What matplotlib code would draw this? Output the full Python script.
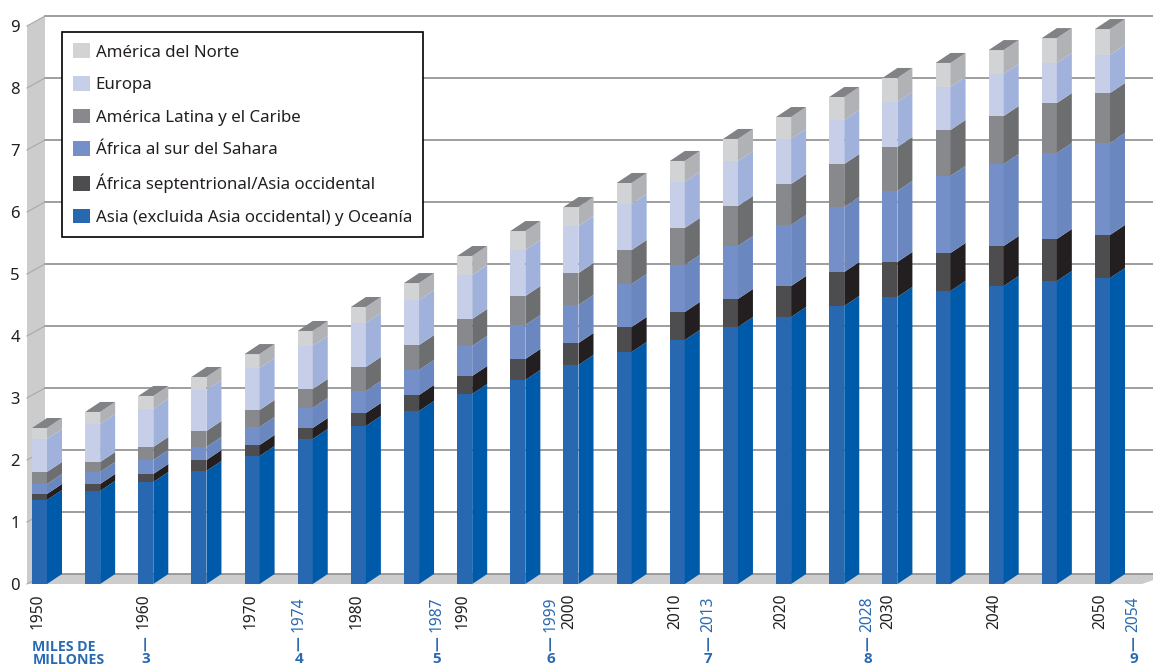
import matplotlib
matplotlib.use("Agg")
import matplotlib.pyplot as plt
from matplotlib.patches import Patch, Polygon
from matplotlib.transforms import ScaledTranslation

plt.rcParams['font.family'] = ['Noto Sans', 'DejaVu Sans']

# population by region, thousands of millions
years = [1950, 1955, 1960, 1965, 1970, 1975, 1980, 1985, 1990, 1995, 2000,
         2005, 2010, 2015, 2020, 2025, 2030, 2035, 2040, 2045, 2050]
asia = [1.355, 1.50, 1.645, 1.823, 2.065, 2.339, 2.548, 2.79, 3.065, 3.29, 3.532,
        3.742, 3.935, 4.145, 4.306, 4.484, 4.629, 4.726, 4.806, 4.887, 4.935]
north_africa = [.097, .113, .129, .177, .177, .177, .21, .258, .29, .339, .355,
                .403, .452, .452, .5, .548, .565, .613, .645, .677, .694]
subsaharan = [.161, .194, .226, .21, .29, .323, .355, .403, .484, .548, .613,
              .694, .758, .855, .984, 1.048, 1.145, 1.242, 1.323, 1.387, 1.484]
latin_america = [.194, .161, .21, .258, .274, .306, .387, .403, .435, .468, .516,
                 .548, .597, .645, .661, .694, .71, .742, .774, .806, .806]
europe = [.532, .613, .613, .661, .677, .694, .71, .726, .71, .742, .758,
          .742, .742, .726, .726, .71, .726, .694, .677, .645, .613]
north_america = [.177, .194, .21, .21, .226, .242, .258, .274, .306, .306, .306,
                 .339, .339, .355, .355, .371, .387, .387, .387, .403, .419]

series = [asia, north_africa, subsaharan, latin_america, europe, north_america]
names = ['Asia (excluida Asia occidental) y Oceanía',
         'África septentrional/Asia occidental',
         'África al sur del Sahara',
         'América Latina y el Caribe',
         'Europa',
         'América del Norte']
front_colors = ['#2868b0', '#4d4d4f', '#7590c8', '#88898c', '#c7cfe8', '#d1d3d4']
side_colors = ['#005aaa', '#231f20', '#6a87c0', '#6d6e70', '#a0b2dc', '#b0b2b5']

y_ticks = list(range(10))
decade_labels = [1950, 1960, 1970, 1980, 1990, 2000, 2010, 2020, 2030, 2040, 2050]
milestone_years = [1960, 1974, 1987, 1999, 2013, 2028, 2054]
milestone_values = ['3', '4', '5', '6', '7', '8', '9']

# pixel layout of the 1153x666 picture
W, H = 1153, 666
px_year = 10.63
px_unit = 62.0
x0_px, x1_px, y0_px, y1_px = 27, 1153, 584, 14
bar_w = 15 / px_year
dx = 15 / px_year
dy = 10 / px_unit
blue = '#2a6ab2'
text_dark = '#231f20'

fig = plt.figure(figsize=(W / 100, H / 100), dpi=100)
ax = fig.add_axes([x0_px / W, 1 - y0_px / H, (x1_px - x0_px) / W, (y0_px - y1_px) / H])
ax.set_xlim(1950 + (x0_px - 39.5) / px_year, 1950 + (x1_px - 39.5) / px_year)
ax.set_ylim(0, (y0_px - y1_px) / px_unit)
for s in ax.spines.values():
    s.set_visible(False)
x_left = ax.get_xlim()[0]
x_right = ax.get_xlim()[1]

# wall and floor
wall = [(x_left, 0), (x_left + 18 / px_year, dy), (x_left + 18 / px_year, 9 + dy), (x_left, 9)]
ax.add_patch(Polygon(wall, facecolor='#cccccc', edgecolor='none', zorder=1))
floor = [(x_left, 0), (x_left + 18 / px_year, dy), (x_right, dy), (x_right, 0.06), (x_right - 11 / px_year, 0)]
ax.add_patch(Polygon(floor, facecolor='#cccccc', edgecolor='none', zorder=1))

# gridlines on the back wall, with the slanted bit on the side wall
for v in y_ticks:
    ax.plot([x_left + 18 / px_year, x_right], [v + dy, v + dy], color='#929292', lw=1.25, zorder=2, clip_on=False)
    ax.plot([x_left, x_left + 18 / px_year], [v, v + dy], color='#a8a8a8', lw=0.8, zorder=2, clip_on=False)

# bars
for i, year in enumerate(years):
    left = year - bar_w / 2
    right = year + bar_w / 2
    bottom = 0
    for values, fc, sc in zip(series, front_colors, side_colors):
        top = bottom + values[i]
        ax.add_patch(Polygon([(left, bottom), (right, bottom), (right, top), (left, top)],
                             facecolor=fc, edgecolor='none', zorder=3))
        ax.add_patch(Polygon([(right, bottom), (right + dx, bottom + dy), (right + dx, top + dy), (right, top)],
                             facecolor=sc, edgecolor='none', zorder=3))
        bottom = top
    ax.add_patch(Polygon([(left, top), (right, top), (right + dx, top + dy), (left + dx, top + dy)],
                         facecolor='#808285', edgecolor='none', zorder=3))

ax.set_yticks(y_ticks)
ax.tick_params(axis='y', length=0, pad=5, labelsize=12, labelcolor=text_dark)
ax.set_xticks(decade_labels)
ax.set_xticklabels([str(y) for y in decade_labels], rotation=90, fontsize=11.2, color=text_dark)
ax.tick_params(axis='x', length=0, pad=7)
# the printed year labels sit slightly left of the bars
nudge = ScaledTranslation(-2 / 100, 0, fig.dpi_scale_trans)
for lab in ax.get_xticklabels():
    lab.set_transform(lab.get_transform() + nudge)

# blue milestone labels under the axis
shift = {1960: 0, 1974: 0.4, 1987: 0.4, 1999: -0.9, 2013: -0.1, 2028: -0.1, 2054: -1.1}
for yr, val in zip(milestone_years, milestone_values):
    x = yr + shift[yr]
    if yr != 1960:
        ax.annotate(str(yr), xy=(x, 0), xytext=(0, -12), textcoords='offset pixels', rotation=90,
                    ha='center', va='top', fontsize=11.2, color=blue, annotation_clip=False)
    ax.annotate('—', xy=(x, 0), xytext=(0, -52), textcoords='offset pixels', rotation=90,
                ha='center', va='top', fontsize=10.5, fontweight='bold', family='Open Sans', color=blue,
                annotation_clip=False)
    ax.annotate(val, xy=(x, 0), xytext=(0, -75), textcoords='offset pixels',
                ha='center', va='center', fontsize=11, fontweight='bold', family='Open Sans', color=blue,
                annotation_clip=False)

ax.annotate('MILES DE\nMILLONES', xy=(1950, 0), xytext=(-7, -56), textcoords='offset pixels',
            ha='left', va='top', fontsize=10.2, fontweight='bold', family='Open Sans', color=blue,
            linespacing=0.9, annotation_clip=False)

# legend, top entry first
handles = [Patch(facecolor=c, edgecolor='none', label=n) for c, n in zip(front_colors, names)][::-1]
leg = ax.legend(handles=handles, loc='upper left', bbox_to_anchor=(62 / W, 1 - 32 / H),
                bbox_transform=fig.transFigure, borderaxespad=0, fontsize=12.15, frameon=True,
                fancybox=False, framealpha=1, edgecolor='black', handlelength=0.95,
                handleheight=0.95, handletextpad=0.36, labelspacing=0.92, borderpad=0.68)
leg.get_frame().set_linewidth(1.2)
leg.set_zorder(10)
for t in leg.get_texts():
    t.set_color(text_dark)

fig.savefig('out.png', dpi=100)
